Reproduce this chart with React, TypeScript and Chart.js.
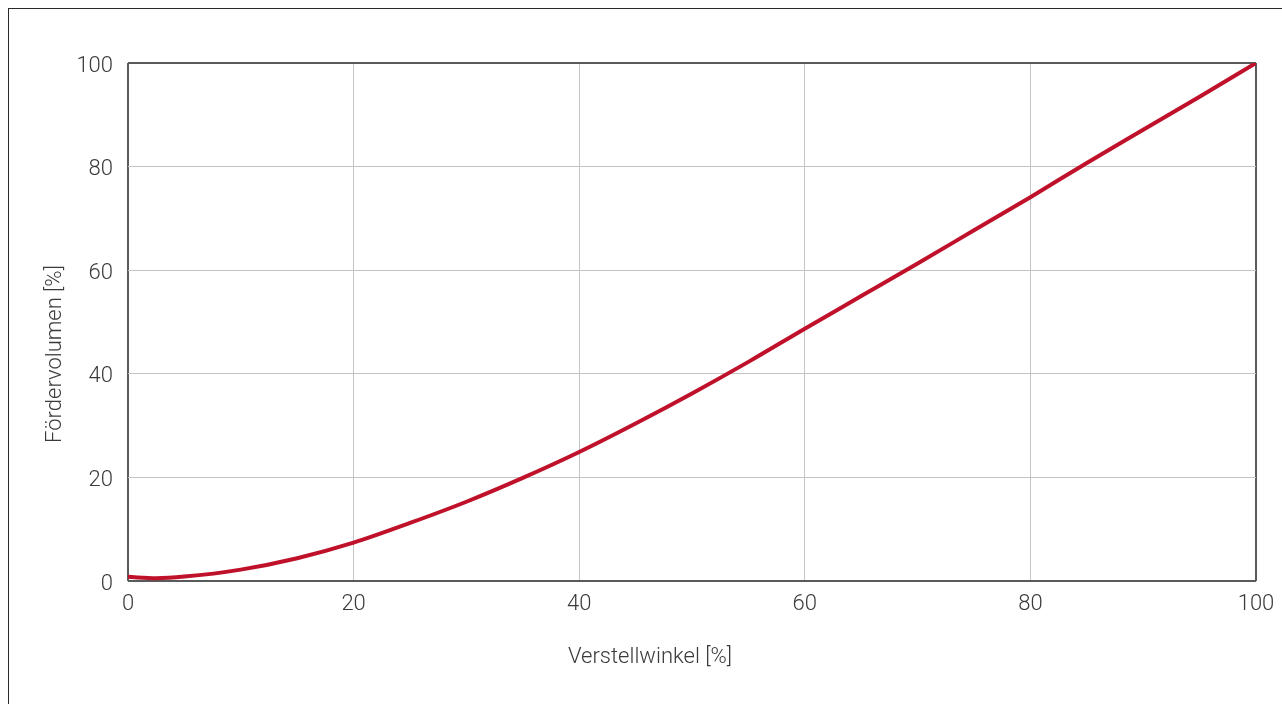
import React, { useEffect, useRef } from "react";
import { Chart, registerables } from "chart.js";

Chart.register(...registerables);

const angle = [0, 2.5, 5, 10, 15, 20, 25, 30, 35, 40, 45, 50, 55, 60, 65, 70, 75, 80, 85, 90, 95, 100];
const volume = [0.8, 0.55, 0.85, 2.2, 4.4, 7.4, 11.2, 15.3, 19.9, 24.9, 30.4, 36.2, 42.3, 48.7, 55.0, 61.3, 67.7, 74.1, 80.7, 87.1, 93.5, 100];
const xTicks = [0, 20, 40, 60, 80, 100];
const yTicks = [0, 20, 40, 60, 80, 100];
const xTitle = "Verstellwinkel [%]";
const yTitle = "Fördervolumen [%]";

const FONT = "Roboto";
const TEXT = "#3a3a3a";

export default function App() {
  const ref = useRef<HTMLCanvasElement | null>(null);
  useEffect(() => {
    const canvas = ref.current;
    if (!canvas) return;
    const titles = {
      id: "titles",
      afterDraw(chart: any) {
        const { ctx, chartArea } = chart;
        ctx.save();
        ctx.fillStyle = TEXT;
        ctx.font = `300 22px ${FONT}`;
        ctx.textAlign = "center";
        ctx.textBaseline = "alphabetic";
        const cx = (chartArea.left + chartArea.right) / 2 - 42;
        ctx.fillText(xTitle, cx, chartArea.bottom + 82);
        const cy = (chartArea.top + chartArea.bottom) / 2 + 32;
        ctx.translate(chartArea.left - 67, cy);
        ctx.rotate(-Math.PI / 2);
        ctx.fillText(yTitle, 0, 0);
        ctx.restore();
      },
    };
    const edge = (v: number) => v === 0 || v === 100;
    const gridOpts = {
      color: (c: any) => (c.tick && edge(c.tick.value) ? "#5a5a5a" : "#c4c4c4"),
      lineWidth: (c: any) => (c.tick && edge(c.tick.value) ? 2 : 1),
      drawTicks: false,
    };
    const chart = new Chart(canvas, {
      type: "line",
      data: {
        datasets: [
          {
            data: angle.map((a, i) => ({ x: a, y: volume[i] })),
            borderColor: "#c0112b",
            borderWidth: 4,
            pointRadius: 0,
            cubicInterpolationMode: "monotone",
            fill: false,
          },
        ],
      },
      options: {
        responsive: false,
        animation: false,
        devicePixelRatio: 1,
        layout: { padding: { top: 54, right: 26, left: 0, bottom: 0 } },
        plugins: { legend: { display: false }, tooltip: { enabled: false } },
        scales: {
          x: {
            type: "linear",
            min: 0,
            max: 100,
            afterBuildTicks: (s: any) => {
              s.ticks = xTicks.map((v) => ({ value: v }));
            },
            afterFit: (s: any) => {
              s.height = 123;
              s.paddingLeft = 0;
              s.paddingRight = 0;
            },
            grid: gridOpts as any,
            border: { display: false },
            ticks: {
              padding: 10,
              color: TEXT,
              font: { family: FONT, size: 22, weight: "300" as any },
              maxRotation: 0,
            },
          },
          y: {
            type: "linear",
            min: 0,
            max: 100,
            afterBuildTicks: (s: any) => {
              s.ticks = yTicks.map((v) => ({ value: v }));
            },
            afterFit: (s: any) => {
              s.width = 119;
              s.paddingTop = 0;
              s.paddingBottom = 0;
            },
            grid: gridOpts as any,
            border: { display: false },
            ticks: {
              padding: 15,
              labelOffset: 3,
              color: TEXT,
              font: { family: FONT, size: 22, weight: "300" as any },
            },
          },
        },
      },
      plugins: [titles],
    });
    return () => chart.destroy();
  }, []);
  return (
    <div
      style={{
        position: "fixed",
        left: 8,
        top: 8,
        width: 1274,
        height: 696,
        boxSizing: "border-box",
        borderLeft: "1px solid #2a2a2a",
        borderTop: "1px solid #2a2a2a",
        background: "#fff",
      }}
    >
      <canvas ref={ref} width={1273} height={695} style={{ display: "block" }} />
    </div>
  );
}
